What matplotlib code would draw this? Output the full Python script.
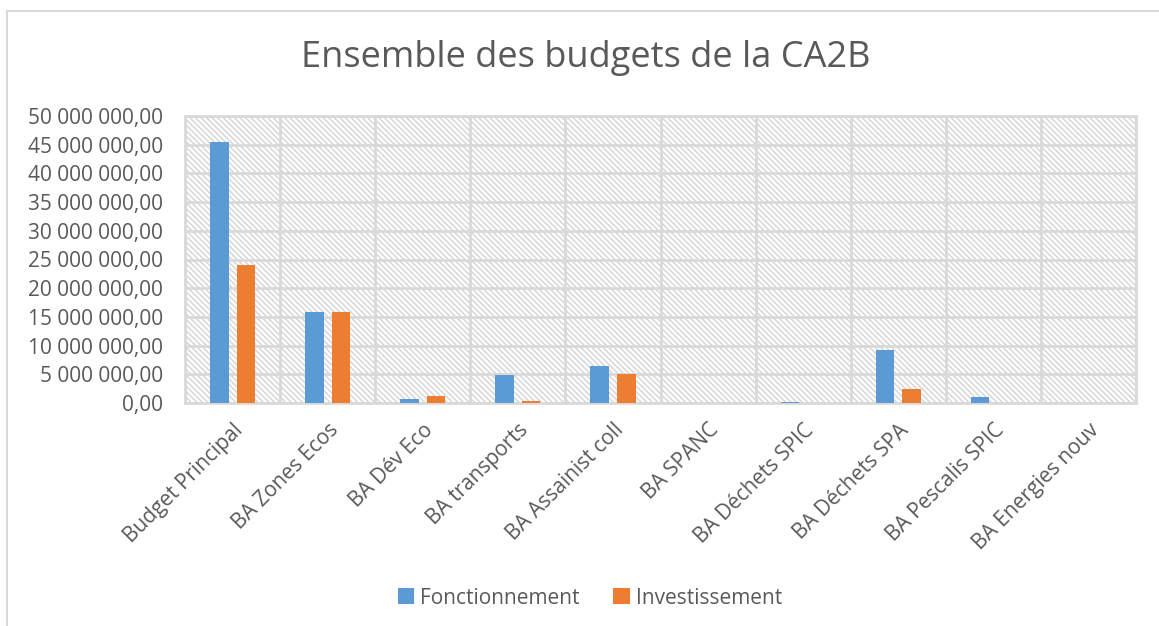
import numpy as np
import matplotlib.pyplot as plt
from matplotlib.patches import Rectangle
from matplotlib.lines import Line2D
from matplotlib.ticker import FuncFormatter, MultipleLocator

# Data
categories = ["Budget Principal", "BA Zones Ecos", "BA Dév Eco", "BA transports",
              "BA Assainist coll", "BA SPANC", "BA Déchets SPIC", "BA Déchets SPA",
              "BA Pescalis SPIC", "BA Energies nouv"]
fonctionnement = [45500000, 15770000, 650000, 4830000, 6520000, 0, 150000, 9310000, 1000000, 0]
investissement = [24000000, 15770000, 1170000, 420000, 5000000, 0, 0, 2510000, 80000, 0]
series_names = ["Fonctionnement", "Investissement"]

# Style
blue = "#5B9BD5"
orange = "#ED7D31"
text_color = "#595959"
grid_color = "#D9D9D9"
hatch_color = "#D4D4D4"

plt.rcParams['font.family'] = ['Open Sans', 'DejaVu Sans']
plt.rcParams['hatch.linewidth'] = 1.0

fig = plt.figure(figsize=(11.59, 6.26), dpi=100)
ax = fig.add_axes([185 / 1159, 1 - 403 / 626, (1136 - 185) / 1159, (403 - 116) / 626])

x = np.arange(len(categories))
bw = 0.195
off = 0.14
ax.bar(x - off, fonctionnement, bw, color=blue, label=series_names[0], zorder=3)
ax.bar(x + off, investissement, bw, color=orange, label=series_names[1], zorder=3)

# hatched plot background
bg = Rectangle((0, 0), 1, 1, transform=ax.transAxes, facecolor="white",
               edgecolor=hatch_color, linewidth=0, hatch="\\\\\\\\\\\\", zorder=0)
ax.add_patch(bg)

ax.set_xlim(-0.5, len(categories) - 0.5)
ax.set_ylim(0, 50000000)
ax.yaxis.set_major_locator(MultipleLocator(5000000))

def fr_fmt(v, pos):
    s = f"{v:,.2f}"
    return s.replace(",", " ").replace(".", ",")

ax.yaxis.set_major_formatter(FuncFormatter(fr_fmt))
ax.set_xticks(x)
ax.set_xticklabels(categories, rotation=45, ha="right", va="top", rotation_mode="anchor")
ax.set_xticks(np.arange(-0.5, len(categories)), minor=True)

ax.grid(axis="y", which="major", color=grid_color, linewidth=2, zorder=1)
ax.grid(axis="x", which="minor", color=grid_color, linewidth=2, zorder=1)
ax.set_axisbelow(True)

for s in ax.spines.values():
    s.set_color(grid_color)
    s.set_linewidth(2)

ax.tick_params(axis="y", length=0, pad=16, labelsize=15, labelcolor=text_color)
ax.tick_params(axis="x", which="both", length=0, pad=12, labelsize=15, labelcolor=text_color)

fig.text(586 / 1159, 1 - 58 / 626, "Ensemble des budgets de la CA2B", ha="center", va="center",
         fontsize=26, color=text_color)

ax.legend(loc="center", bbox_to_anchor=(590 / 1159, 1 - 598 / 626), bbox_transform=fig.transFigure,
          ncol=2, frameon=False, fontsize=15, labelcolor=text_color, handlelength=0.8,
          handleheight=0.8, handletextpad=0.3, columnspacing=1.6)

# chart area border (left and top visible)
fig.add_artist(Line2D([7 / 1159, 7 / 1159], [0, 1 - 11 / 626], color=grid_color, linewidth=1.5,
                      transform=fig.transFigure))
fig.add_artist(Line2D([7 / 1159, 1], [1 - 11 / 626, 1 - 11 / 626], color=grid_color, linewidth=1.5,
                      transform=fig.transFigure))

fig.savefig("out.png", dpi=100)
